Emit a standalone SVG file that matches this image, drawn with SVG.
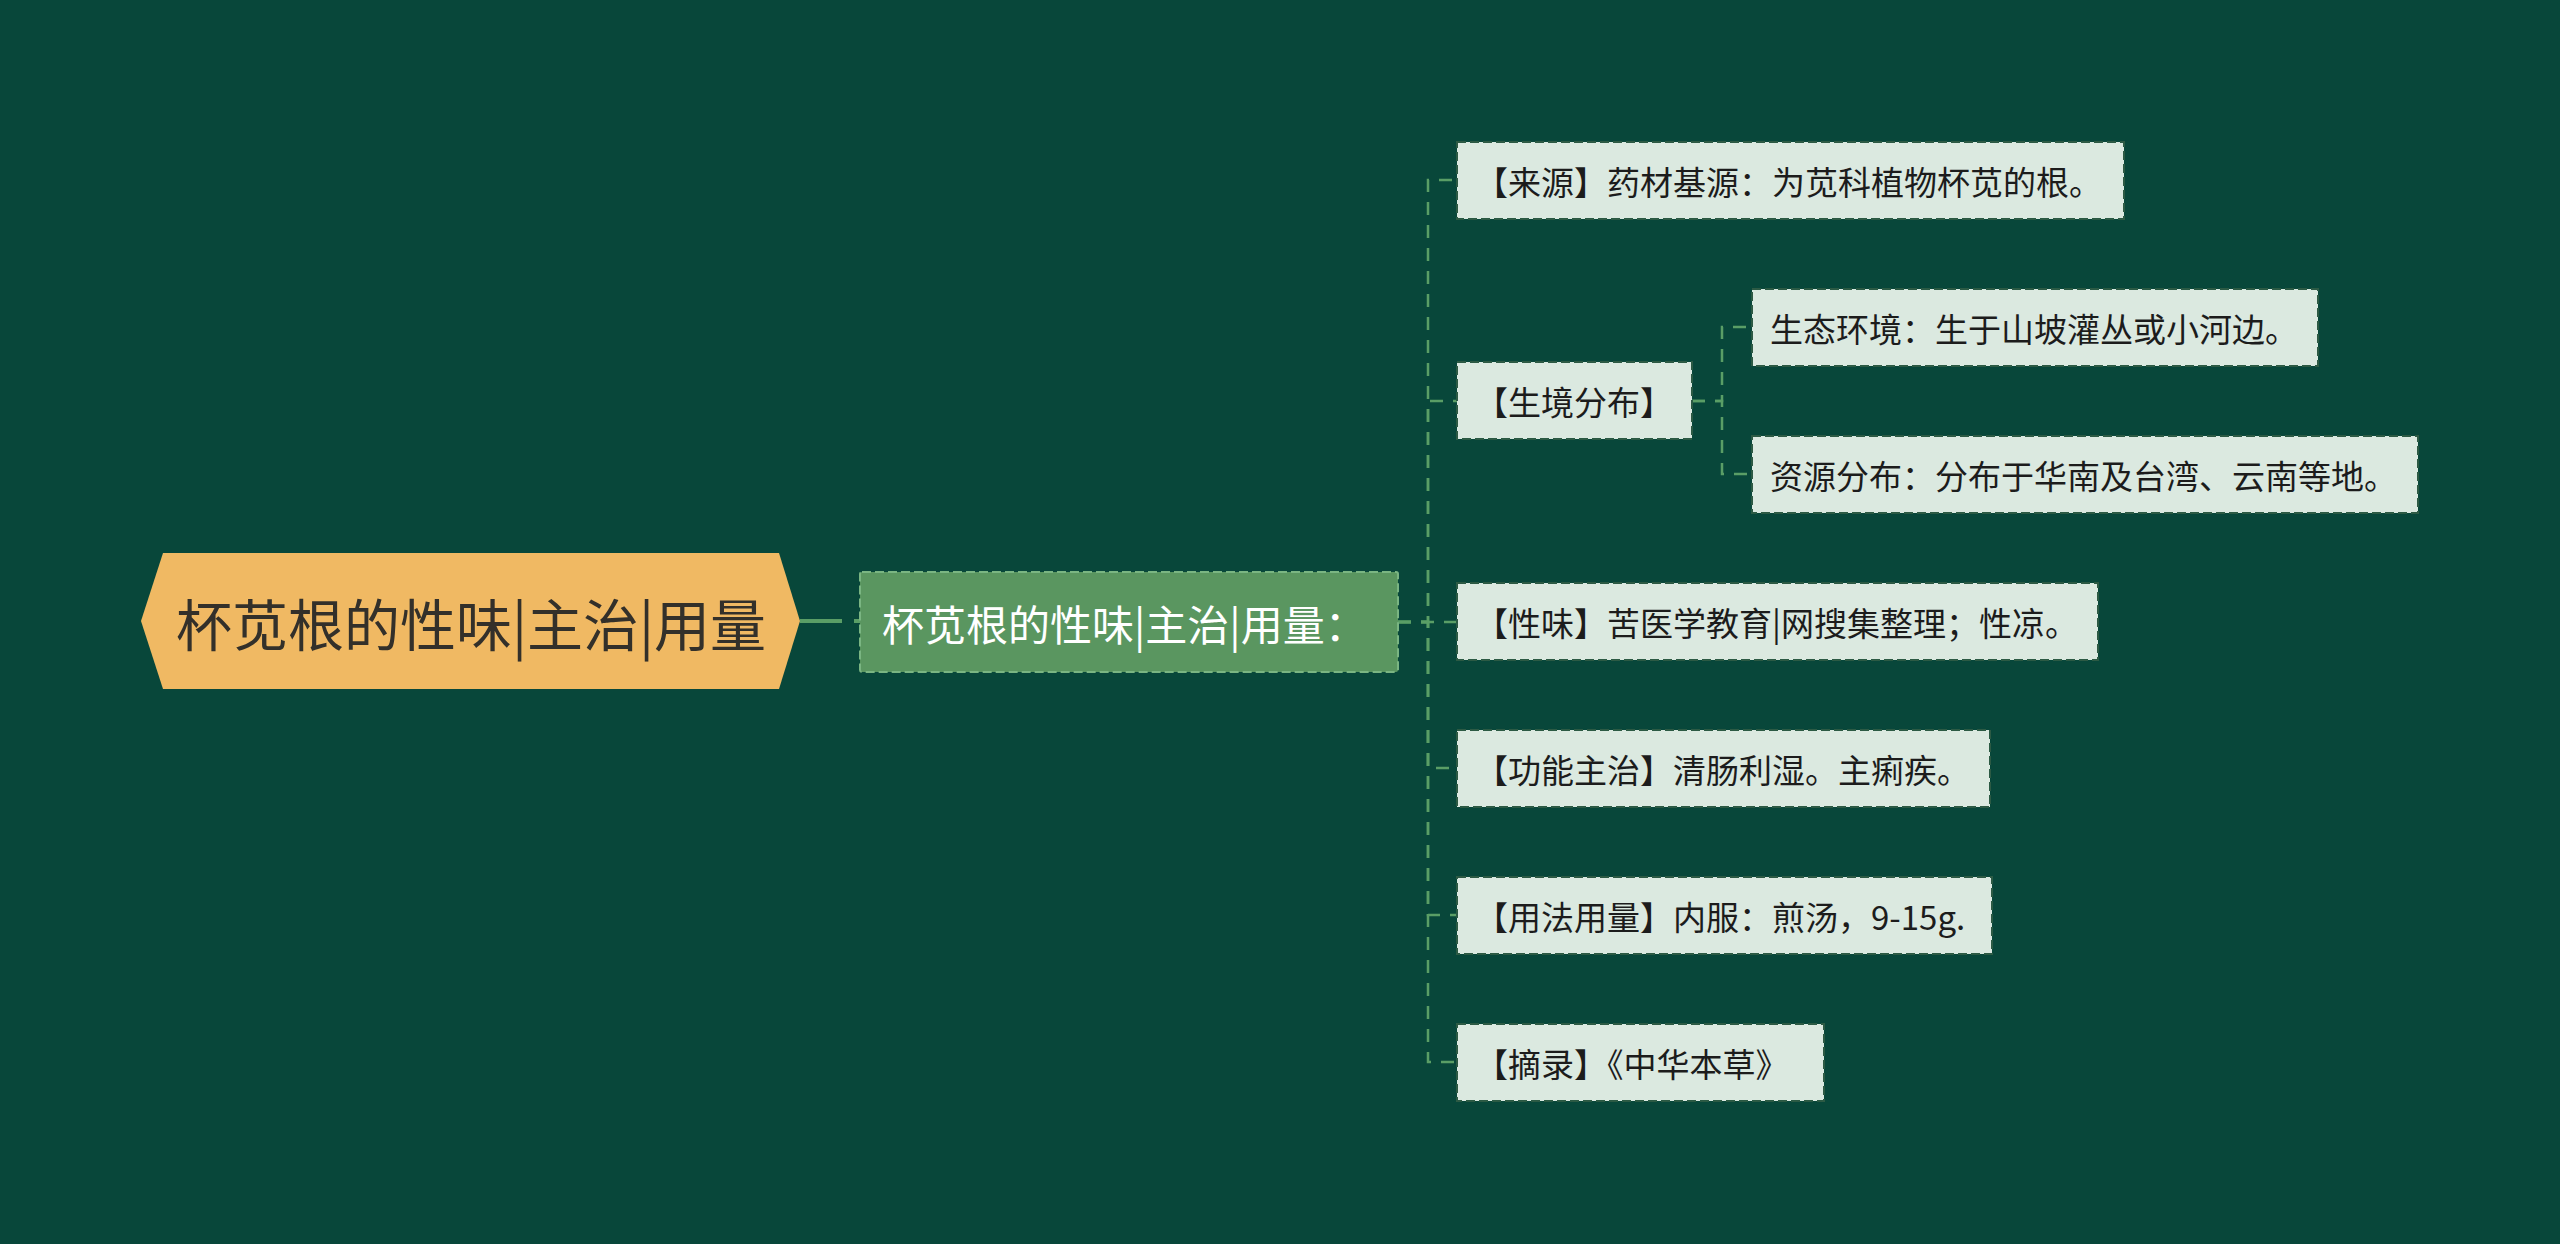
<svg xmlns="http://www.w3.org/2000/svg" width="2560" height="1244" viewBox="0 0 2560 1244">
<style>
.bg{fill:#08473a}
.conn{fill:none;stroke:#5a9e66;stroke-width:2.5;stroke-dasharray:13 10}
.leaf rect{fill:#dbe9e0;stroke:#2c5a44;stroke-width:2;stroke-dasharray:9 4}
.leaf text{font-family:"Noto Sans CJK SC","Noto Sans",sans-serif;font-size:33px;fill:#1c1c1c;dominant-baseline:central}
</style>
<rect class="bg" x="0" y="0" width="2560" height="1244"/>
<g id="connectors">
<path d="M800,621 H860" fill="none" stroke="#5a9e66" stroke-width="4" stroke-dasharray="42 12"/>
<path class="conn" d="M1398,622 H1428 V180 H1457"/>
<path class="conn" d="M1398,622 H1428 V401 H1457"/>
<path class="conn" d="M1398,622 H1457"/>
<path class="conn" d="M1398,622 H1428 V768 H1457"/>
<path class="conn" d="M1398,622 H1428 V915 H1457"/>
<path class="conn" d="M1398,622 H1428 V1062 H1457"/>
<path class="conn" d="M1692,401 H1722 V327 H1752"/>
<path class="conn" d="M1692,401 H1722 V474 H1752"/>
</g>
<g id="root">
<polygon points="141,621 163,553 779,553 800,621 779,689 163,689" fill="#f0b963"/>
<text x="471" y="621" text-anchor="middle" dominant-baseline="central" font-family="'Noto Sans CJK SC','Noto Sans',sans-serif" font-size="56" fill="#33302a">杯苋根的性味|主治|用量</text>
</g>
<g id="main">
<rect x="860" y="572" width="538" height="100" rx="2" fill="#5a9660" stroke="#7ab582" stroke-width="2" stroke-dasharray="9 4"/>
<text x="882" y="622" dominant-baseline="central" font-family="'Noto Sans CJK SC','Noto Sans',sans-serif" font-size="42" fill="#ffffff">杯苋根的性味|主治|用量：</text>
</g>
<g id="n-laiyuan" class="leaf">
<rect x="1457" y="142" width="667" height="77"/>
<text x="1475" y="180.5">【来源】药材基源：为苋科植物杯苋的根。</text>
</g>
<g id="n-shengjing" class="leaf">
<rect x="1457" y="362" width="235" height="77"/>
<text x="1475" y="400.5">【生境分布】</text>
</g>
<g id="n-shengtai" class="leaf">
<rect x="1752" y="289" width="566" height="77"/>
<text x="1770" y="327.5">生态环境：生于山坡灌丛或小河边。</text>
</g>
<g id="n-ziyuan" class="leaf">
<rect x="1752" y="436" width="666" height="77"/>
<text x="1770" y="474.5">资源分布：分布于华南及台湾、云南等地。</text>
</g>
<g id="n-xingwei" class="leaf">
<rect x="1457" y="583" width="641" height="77"/>
<text x="1475" y="621.5">【性味】苦医学教育|网搜集整理；性凉。</text>
</g>
<g id="n-gongneng" class="leaf">
<rect x="1457" y="730" width="533" height="77"/>
<text x="1475" y="768.5">【功能主治】清肠利湿。主痢疾。</text>
</g>
<g id="n-yongfa" class="leaf">
<rect x="1457" y="877" width="535" height="77"/>
<text x="1475" y="915.5">【用法用量】内服：煎汤，9-15g.</text>
</g>
<g id="n-zhailu" class="leaf">
<rect x="1457" y="1024" width="367" height="77"/>
<text x="1475" y="1062.5">【摘录】《中华本草》</text>
</g>
</svg>
